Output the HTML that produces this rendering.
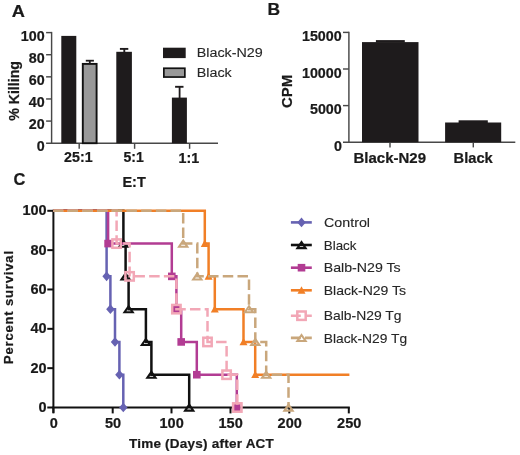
<!DOCTYPE html>
<html><head><meta charset="utf-8"><style>
html,body{margin:0;padding:0;background:#fff;}
svg{display:block;font-family:"Liberation Sans", sans-serif;will-change:transform;}
</style></head><body>
<svg width="520" height="455" viewBox="0 0 520 455">
<rect width="520" height="455" fill="#fff"/>
<text transform="translate(11.67,16.75) scale(1.0522,1)" font-size="17.3" font-weight="bold" fill="#1a1a1a" stroke="#1a1a1a" stroke-width="0.22">A</text>
<text transform="translate(36.85,151.30)" font-size="14.3" font-weight="bold" fill="#1a1a1a" stroke="#1a1a1a" stroke-width="0.22">0</text>
<text transform="translate(28.85,129.18)" font-size="14.3" font-weight="bold" fill="#1a1a1a" stroke="#1a1a1a" stroke-width="0.22">20</text>
<text transform="translate(28.85,107.06)" font-size="14.3" font-weight="bold" fill="#1a1a1a" stroke="#1a1a1a" stroke-width="0.22">40</text>
<text transform="translate(28.85,84.94)" font-size="14.3" font-weight="bold" fill="#1a1a1a" stroke="#1a1a1a" stroke-width="0.22">60</text>
<text transform="translate(28.85,62.82)" font-size="14.3" font-weight="bold" fill="#1a1a1a" stroke="#1a1a1a" stroke-width="0.22">80</text>
<text transform="translate(20.85,40.70)" font-size="14.3" font-weight="bold" fill="#1a1a1a" stroke="#1a1a1a" stroke-width="0.22">100</text>
<text transform="translate(196.74,56.90) scale(1.0612,1)" font-size="13.5" font-weight="normal" fill="#262626" stroke="#262626" stroke-width="0.12">Black-N29</text>
<text transform="translate(196.74,76.60) scale(1.0625,1)" font-size="13.5" font-weight="normal" fill="#262626" stroke="#262626" stroke-width="0.12">Black</text>
<text transform="translate(64.10,162.20) scale(0.9946,1)" font-size="14.3" font-weight="bold" fill="#1a1a1a" stroke="#1a1a1a" stroke-width="0.22">25:1</text>
<text transform="translate(123.51,162.20) scale(0.9823,1)" font-size="14.3" font-weight="bold" fill="#1a1a1a" stroke="#1a1a1a" stroke-width="0.22">5:1</text>
<text transform="translate(178.60,162.60)" font-size="14.3" font-weight="bold" fill="#1a1a1a" stroke="#1a1a1a" stroke-width="0.22">1:1</text>
<text transform="translate(122.47,186.60) scale(1.0326,1)" font-size="14" font-weight="bold" fill="#1a1a1a" stroke="#1a1a1a" stroke-width="0.22">E:T</text>
<text transform="translate(19.30,120.85) rotate(-90) scale(1.0138,1)" font-size="14" font-weight="bold" fill="#1a1a1a" stroke="#1a1a1a" stroke-width="0.22">% Killing</text>
<text transform="translate(267.54,15.10) scale(1.0095,1)" font-size="17.3" font-weight="bold" fill="#1a1a1a" stroke="#1a1a1a" stroke-width="0.22">B</text>
<text transform="translate(333.95,150.70)" font-size="14.3" font-weight="bold" fill="#1a1a1a" stroke="#1a1a1a" stroke-width="0.22">0</text>
<text transform="translate(309.95,114.10)" font-size="14.3" font-weight="bold" fill="#1a1a1a" stroke="#1a1a1a" stroke-width="0.22">5000</text>
<text transform="translate(301.95,77.50)" font-size="14.3" font-weight="bold" fill="#1a1a1a" stroke="#1a1a1a" stroke-width="0.22">10000</text>
<text transform="translate(301.95,40.90)" font-size="14.3" font-weight="bold" fill="#1a1a1a" stroke="#1a1a1a" stroke-width="0.22">15000</text>
<text transform="translate(353.55,163.10) scale(1.0489,1)" font-size="14.3" font-weight="bold" fill="#1a1a1a" stroke="#1a1a1a" stroke-width="0.22">Black-N29</text>
<text transform="translate(453.57,163.20) scale(1.0270,1)" font-size="14.3" font-weight="bold" fill="#1a1a1a" stroke="#1a1a1a" stroke-width="0.22">Black</text>
<text transform="translate(291.80,107.95) rotate(-90) scale(0.9968,1)" font-size="15" font-weight="bold" fill="#1a1a1a" stroke="#1a1a1a" stroke-width="0.22">CPM</text>
<text transform="translate(13.49,185.30) scale(0.9511,1)" font-size="17.3" font-weight="bold" fill="#1a1a1a" stroke="#1a1a1a" stroke-width="0.22">C</text>
<text transform="translate(22.40,215.40)" font-size="14.5" font-weight="bold" fill="#1a1a1a" stroke="#1a1a1a" stroke-width="0.22">100</text>
<text transform="translate(30.40,254.74)" font-size="14.5" font-weight="bold" fill="#1a1a1a" stroke="#1a1a1a" stroke-width="0.22">80</text>
<text transform="translate(30.40,294.08)" font-size="14.5" font-weight="bold" fill="#1a1a1a" stroke="#1a1a1a" stroke-width="0.22">60</text>
<text transform="translate(30.40,333.42)" font-size="14.5" font-weight="bold" fill="#1a1a1a" stroke="#1a1a1a" stroke-width="0.22">40</text>
<text transform="translate(30.40,372.76)" font-size="14.5" font-weight="bold" fill="#1a1a1a" stroke="#1a1a1a" stroke-width="0.22">20</text>
<text transform="translate(38.40,412.10)" font-size="14.5" font-weight="bold" fill="#1a1a1a" stroke="#1a1a1a" stroke-width="0.22">0</text>
<text transform="translate(49.70,428.30)" font-size="14.5" font-weight="bold" fill="#1a1a1a" stroke="#1a1a1a" stroke-width="0.22">0</text>
<text transform="translate(105.00,428.30)" font-size="14.5" font-weight="bold" fill="#1a1a1a" stroke="#1a1a1a" stroke-width="0.22">50</text>
<text transform="translate(159.55,428.30)" font-size="14.5" font-weight="bold" fill="#1a1a1a" stroke="#1a1a1a" stroke-width="0.22">100</text>
<text transform="translate(218.55,428.30)" font-size="14.5" font-weight="bold" fill="#1a1a1a" stroke="#1a1a1a" stroke-width="0.22">150</text>
<text transform="translate(277.60,428.30)" font-size="14.5" font-weight="bold" fill="#1a1a1a" stroke="#1a1a1a" stroke-width="0.22">200</text>
<text transform="translate(337.10,428.30)" font-size="14.5" font-weight="bold" fill="#1a1a1a" stroke="#1a1a1a" stroke-width="0.22">250</text>
<text transform="translate(128.95,447.80)" font-size="13.5" font-weight="bold" fill="#1a1a1a" stroke="#1a1a1a" stroke-width="0.22" letter-spacing="0.230">Time (Days) after ACT</text>
<text transform="translate(12.90,364.05) rotate(-90)" font-size="13" font-weight="bold" fill="#1a1a1a" stroke="#1a1a1a" stroke-width="0.22" letter-spacing="0.843">Percent survival</text>
<text transform="translate(324.01,226.80) scale(1.0509,1)" font-size="13.6" font-weight="normal" fill="#262626" stroke="#262626" stroke-width="0.12">Control</text>
<text transform="translate(323.82,249.60) scale(0.9829,1)" font-size="13.6" font-weight="normal" fill="#262626" stroke="#262626" stroke-width="0.12">Black</text>
<text transform="translate(323.76,272.40) scale(1.0422,1)" font-size="13.6" font-weight="normal" fill="#262626" stroke="#262626" stroke-width="0.12">Balb-N29 Ts</text>
<text transform="translate(323.77,294.90) scale(1.0313,1)" font-size="13.6" font-weight="normal" fill="#262626" stroke="#262626" stroke-width="0.12">Black-N29 Ts</text>
<text transform="translate(323.78,320.00) scale(1.0222,1)" font-size="13.6" font-weight="normal" fill="#262626" stroke="#262626" stroke-width="0.12">Balb-N29 Tg</text>
<text transform="translate(323.78,342.90) scale(1.0156,1)" font-size="13.6" font-weight="normal" fill="#262626" stroke="#262626" stroke-width="0.12">Black-N29 Tg</text>
<line x1="51.6" y1="31.90" x2="51.6" y2="143.90" stroke="#484848" stroke-width="1.45"/>
<line x1="46.1" y1="121.08" x2="51.6" y2="121.08" stroke="#484848" stroke-width="1.45"/>
<line x1="46.1" y1="98.96" x2="51.6" y2="98.96" stroke="#484848" stroke-width="1.45"/>
<line x1="46.1" y1="76.84" x2="51.6" y2="76.84" stroke="#484848" stroke-width="1.45"/>
<line x1="46.1" y1="54.72" x2="51.6" y2="54.72" stroke="#484848" stroke-width="1.45"/>
<line x1="46.1" y1="32.60" x2="51.6" y2="32.60" stroke="#484848" stroke-width="1.45"/>
<line x1="46.1" y1="143.20" x2="218" y2="143.20" stroke="#484848" stroke-width="1.45"/>
<line x1="79.2" y1="143.20" x2="79.2" y2="148.8" stroke="#484848" stroke-width="1.45"/>
<line x1="134.6" y1="143.20" x2="134.6" y2="148.8" stroke="#484848" stroke-width="1.45"/>
<line x1="189.6" y1="143.20" x2="189.6" y2="148.8" stroke="#484848" stroke-width="1.45"/>
<rect x="61.3" y="35.9" width="15" height="107.30" fill="#1e1b1c"/>
<rect x="82.8" y="63.9" width="13.8" height="79.30" fill="#999999" stroke="#111" stroke-width="1.9"/>
<line x1="89.8" y1="60.7" x2="89.8" y2="63.5" stroke="#1e1b1c" stroke-width="1.8"/>
<line x1="85.8" y1="60.7" x2="93.9" y2="60.7" stroke="#1e1b1c" stroke-width="1.8"/>
<rect x="116.3" y="51.8" width="15.6" height="91.40" fill="#1e1b1c"/>
<line x1="124.3" y1="48.9" x2="124.3" y2="52" stroke="#1e1b1c" stroke-width="1.9"/>
<line x1="119.9" y1="48.9" x2="128.3" y2="48.9" stroke="#1e1b1c" stroke-width="1.9"/>
<rect x="171.9" y="97.6" width="15" height="45.60" fill="#1e1b1c"/>
<line x1="179.6" y1="86.8" x2="179.6" y2="98" stroke="#1e1b1c" stroke-width="1.8"/>
<line x1="175.1" y1="86.8" x2="183.5" y2="86.8" stroke="#1e1b1c" stroke-width="1.9"/>
<rect x="163" y="47.7" width="22.7" height="10.4" fill="#1e1b1c"/>
<rect x="163.85" y="68.25" width="21" height="8.8" fill="#999999" stroke="#111" stroke-width="1.7"/>
<line x1="348.9" y1="31.70" x2="348.9" y2="142.90" stroke="#484848" stroke-width="1.45"/>
<line x1="343" y1="105.60" x2="348.9" y2="105.60" stroke="#484848" stroke-width="1.45"/>
<line x1="343" y1="69.00" x2="348.9" y2="69.00" stroke="#484848" stroke-width="1.45"/>
<line x1="343" y1="32.40" x2="348.9" y2="32.40" stroke="#484848" stroke-width="1.45"/>
<line x1="343" y1="142.20" x2="515.3" y2="142.20" stroke="#484848" stroke-width="1.45"/>
<line x1="390" y1="142.20" x2="390" y2="147.4" stroke="#484848" stroke-width="1.45"/>
<line x1="473.3" y1="142.20" x2="473.3" y2="147.4" stroke="#484848" stroke-width="1.45"/>
<rect x="362" y="42.1" width="56.5" height="100.10" fill="#1e1b1c"/>
<rect x="375.9" y="40.1" width="28.9" height="2.5" fill="#1e1b1c"/>
<rect x="445.1" y="122.5" width="56.1" height="19.70" fill="#1e1b1c"/>
<rect x="458.6" y="120.3" width="29.2" height="2.7" fill="#1e1b1c"/>
<line x1="53.4" y1="209.8" x2="53.4" y2="412.9" stroke="#111" stroke-width="2"/>
<line x1="52.4" y1="407.5" x2="349.8" y2="407.5" stroke="#111" stroke-width="2"/>
<line x1="47.3" y1="210.80" x2="53.4" y2="210.80" stroke="#111" stroke-width="2"/>
<line x1="47.3" y1="250.14" x2="53.4" y2="250.14" stroke="#111" stroke-width="2"/>
<line x1="47.3" y1="289.48" x2="53.4" y2="289.48" stroke="#111" stroke-width="2"/>
<line x1="47.3" y1="328.82" x2="53.4" y2="328.82" stroke="#111" stroke-width="2"/>
<line x1="47.3" y1="368.16" x2="53.4" y2="368.16" stroke="#111" stroke-width="2"/>
<line x1="47.3" y1="407.50" x2="53.4" y2="407.50" stroke="#111" stroke-width="2"/>
<line x1="53.4" y1="407.5" x2="53.4" y2="413.4" stroke="#111" stroke-width="2"/>
<line x1="112.7" y1="407.5" x2="112.7" y2="413.4" stroke="#111" stroke-width="2"/>
<line x1="171.5" y1="407.5" x2="171.5" y2="413.4" stroke="#111" stroke-width="2"/>
<line x1="230.5" y1="407.5" x2="230.5" y2="413.4" stroke="#111" stroke-width="2"/>
<line x1="289.3" y1="407.5" x2="289.3" y2="413.4" stroke="#111" stroke-width="2"/>
<line x1="348.8" y1="407.5" x2="348.8" y2="413.4" stroke="#111" stroke-width="2"/>
<path d="M53.4 210.80 H106.6 V276.37 H110.4 V309.15 H115 V341.93 H119.4 V374.72 H123.3 V407.50" fill="none" stroke="#6662b2" stroke-width="2.5"/>
<path d="M106.6 271.57 L110.80 276.3666666666667 L106.6 281.17 L102.40 276.3666666666667 Z" fill="#6662b2"/>
<path d="M110.4 304.35 L114.60 309.15 L110.4 313.95 L106.20 309.15 Z" fill="#6662b2"/>
<path d="M115 337.13 L119.20 341.93333333333334 L115 346.73 L110.80 341.93333333333334 Z" fill="#6662b2"/>
<path d="M119.4 369.92 L123.60 374.7166666666667 L119.4 379.52 L115.20 374.7166666666667 Z" fill="#6662b2"/>
<path d="M123.3 402.70 L127.50 407.5 L123.3 412.30 L119.10 407.5 Z" fill="#6662b2"/>
<path d="M53.4 210.80 H123.4 V243.58 H125.6 V276.37 H128.6 V309.15 H145.9 V341.93 H151.4 V374.72 H189.2 V407.50" fill="none" stroke="#111111" stroke-width="2.5"/>
<path d="M123.4 240.68 L127.50 246.68 L119.30 246.68 Z" fill="none" stroke="#111111" stroke-width="2.1" stroke-linejoin="miter"/>
<path d="M125.6 273.47 L129.70 279.47 L121.50 279.47 Z" fill="none" stroke="#111111" stroke-width="2.1" stroke-linejoin="miter"/>
<path d="M128.6 306.25 L132.70 312.25 L124.50 312.25 Z" fill="none" stroke="#111111" stroke-width="2.1" stroke-linejoin="miter"/>
<path d="M145.9 339.03 L150.00 345.03 L141.80 345.03 Z" fill="none" stroke="#111111" stroke-width="2.1" stroke-linejoin="miter"/>
<path d="M151.4 371.82 L155.50 377.82 L147.30 377.82 Z" fill="none" stroke="#111111" stroke-width="2.1" stroke-linejoin="miter"/>
<path d="M189.2 404.60 L193.30 410.60 L185.10 410.60 Z" fill="none" stroke="#111111" stroke-width="2.1" stroke-linejoin="miter"/>
<path d="M53.4 210.80 H108.1 V243.58 H171.8 V276.37 H176.4 V309.15 H181.2 V341.93 H196.8 V374.72 H236.8 V407.50" fill="none" stroke="#b23c93" stroke-width="2.5"/>
<rect x="104.30" y="239.78" width="7.60" height="7.60" fill="#b23c93"/>
<rect x="168.00" y="272.57" width="7.60" height="7.60" fill="#b23c93"/>
<rect x="172.60" y="305.35" width="7.60" height="7.60" fill="#b23c93"/>
<rect x="177.40" y="338.13" width="7.60" height="7.60" fill="#b23c93"/>
<rect x="193.00" y="370.92" width="7.60" height="7.60" fill="#b23c93"/>
<rect x="233.00" y="403.70" width="7.60" height="7.60" fill="#b23c93"/>
<path d="M53.4 210.80 H204.8 V243.58 H208.6 V276.37 H214.8 V309.15 H243.5 V341.93 H255.2 V374.72 H349.4" fill="none" stroke="#f17f26" stroke-width="2.5"/>
<path d="M204.8 239.58 L208.80 246.98 L200.80 246.98 Z" fill="#f17f26"/>
<path d="M208.6 272.37 L212.60 279.77 L204.60 279.77 Z" fill="#f17f26"/>
<path d="M214.8 305.15 L218.80 312.55 L210.80 312.55 Z" fill="#f17f26"/>
<path d="M243.5 337.93 L247.50 345.33 L239.50 345.33 Z" fill="#f17f26"/>
<path d="M255.2 370.72 L259.20 378.12 L251.20 378.12 Z" fill="#f17f26"/>
<path d="M53.4 210.80 H116.6 V243.58 H129.6 V276.37 H176.4 V309.15 H207.5 V341.93 H226.6 V374.72 H237.3 V407.50" fill="none" stroke="#f2a7b6" stroke-width="2.5" stroke-dasharray="10.5 4.22" stroke-dashoffset="0.6"/>
<rect x="112.40" y="239.38" width="8.40" height="8.40" fill="none" stroke="#f2a7b6" stroke-width="2.5"/>
<rect x="125.40" y="272.17" width="8.40" height="8.40" fill="none" stroke="#f2a7b6" stroke-width="2.5"/>
<rect x="172.20" y="304.95" width="8.40" height="8.40" fill="none" stroke="#f2a7b6" stroke-width="2.5"/>
<rect x="203.30" y="337.73" width="8.40" height="8.40" fill="none" stroke="#f2a7b6" stroke-width="2.5"/>
<rect x="222.40" y="370.52" width="8.40" height="8.40" fill="none" stroke="#f2a7b6" stroke-width="2.5"/>
<rect x="233.10" y="403.30" width="8.40" height="8.40" fill="none" stroke="#f2a7b6" stroke-width="2.5"/>
<path d="M53.4 210.80 H183.2 V243.58 H197.3 V276.37 H249 V309.15 H255.3 V341.93 H266.2 V374.72 H288.5 V407.50" fill="none" stroke="#c9a77c" stroke-width="2.5" stroke-dasharray="10.5 4.22" stroke-dashoffset="0.6"/>
<path d="M183.2 240.68 L187.30 246.68 L179.10 246.68 Z" fill="none" stroke="#c9a77c" stroke-width="2.1" stroke-linejoin="miter"/>
<path d="M197.3 273.47 L201.40 279.47 L193.20 279.47 Z" fill="none" stroke="#c9a77c" stroke-width="2.1" stroke-linejoin="miter"/>
<path d="M249 306.25 L253.10 312.25 L244.90 312.25 Z" fill="none" stroke="#c9a77c" stroke-width="2.1" stroke-linejoin="miter"/>
<path d="M255.3 339.03 L259.40 345.03 L251.20 345.03 Z" fill="none" stroke="#c9a77c" stroke-width="2.1" stroke-linejoin="miter"/>
<path d="M266.2 371.82 L270.30 377.82 L262.10 377.82 Z" fill="none" stroke="#c9a77c" stroke-width="2.1" stroke-linejoin="miter"/>
<path d="M288.5 404.60 L292.60 410.60 L284.40 410.60 Z" fill="none" stroke="#c9a77c" stroke-width="2.1" stroke-linejoin="miter"/>
<line x1="290.9" y1="222.4" x2="311.8" y2="222.4" stroke="#6662b2" stroke-width="2.6"/>
<path d="M301.5 217.60 L305.70 222.4 L301.5 227.20 L297.30 222.4 Z" fill="#6662b2"/>
<line x1="290.9" y1="245" x2="311.8" y2="245" stroke="#111111" stroke-width="2.6"/>
<path d="M301.5 242.10 L305.60 248.10 L297.40 248.10 Z" fill="none" stroke="#111111" stroke-width="2.1" stroke-linejoin="miter"/>
<line x1="290.9" y1="267.7" x2="311.8" y2="267.7" stroke="#b23c93" stroke-width="2.6"/>
<rect x="297.70" y="263.90" width="7.60" height="7.60" fill="#b23c93"/>
<line x1="290.9" y1="290.3" x2="311.8" y2="290.3" stroke="#f17f26" stroke-width="2.6"/>
<path d="M301.5 286.30 L305.50 293.70 L297.50 293.70 Z" fill="#f17f26"/>
<line x1="290.9" y1="315.7" x2="311.8" y2="315.7" stroke="#f2a7b6" stroke-width="2.6" stroke-dasharray="10.5 4.22" stroke-dashoffset="0.6"/>
<rect x="297.30" y="311.50" width="8.40" height="8.40" fill="none" stroke="#f2a7b6" stroke-width="2.5"/>
<line x1="290.9" y1="337.9" x2="311.8" y2="337.9" stroke="#c9a77c" stroke-width="2.6" stroke-dasharray="10.5 4.22" stroke-dashoffset="0.6"/>
<path d="M301.5 335.00 L305.60 341.00 L297.40 341.00 Z" fill="none" stroke="#c9a77c" stroke-width="2.1" stroke-linejoin="miter"/>
</svg>
</body></html>
